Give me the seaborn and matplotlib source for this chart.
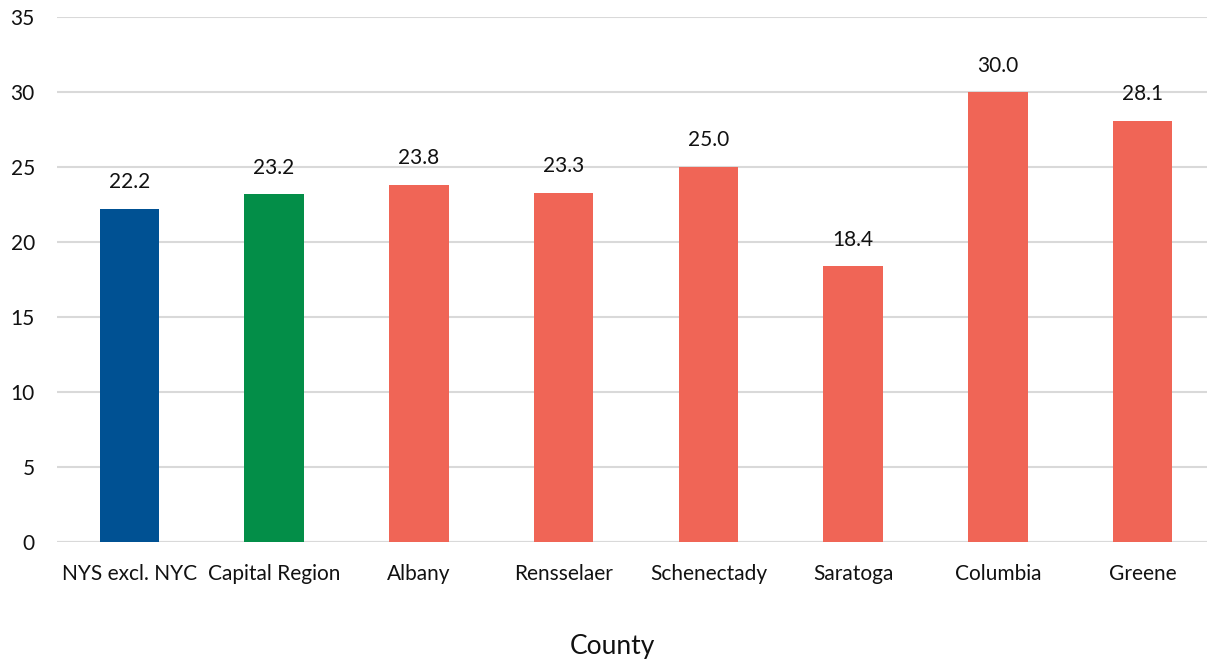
import numpy as np
import pandas as pd
import matplotlib
matplotlib.use("Agg")
import matplotlib.pyplot as plt
import seaborn as sns

counties = ["NYS excl. NYC", "Capital Region", "Albany", "Rensselaer",
            "Schenectady", "Saratoga", "Columbia", "Greene"]
values = [22.2, 23.2, 23.8, 23.3, 25.0, 18.4, 30.0, 28.1]
colors = ["#005193", "#038E48", "#F06556", "#F06556",
          "#F06556", "#F06556", "#F06556", "#F06556"]
yticks = [0, 5, 10, 15, 20, 25, 30, 35]

data = pd.DataFrame({"County": counties, "Value": values})

sns.set_style("white")
plt.rcParams["font.family"] = ["Lato", "DejaVu Sans"]

fig = plt.figure(figsize=(12.07, 6.61), dpi=100)
ax = fig.add_axes([57 / 1207, 119 / 661, 1158 / 1207, 525 / 661])

sns.barplot(data=data, x="County", y="Value", hue="County", palette=colors,
            legend=False, width=0.41, saturation=1, linewidth=0, ax=ax)

for i, v in enumerate(values):
    ax.text(i, v + 1.1, f"{v:.1f}", ha="center", va="bottom", fontsize=15, color="#111111")

ax.set_ylim(0, 35)
ax.set_yticks(yticks)
ax.yaxis.grid(True, color="#d9d9d9", linewidth=1.5)
ax.set_axisbelow(True)
for s in ax.spines.values():
    s.set_visible(False)
ax.axhline(0, color="#d9d9d9", linewidth=1.5, zorder=0)
ax.tick_params(axis="both", length=0, labelsize=15, colors="#111111")
ax.tick_params(axis="x", pad=16)
ax.tick_params(axis="y", pad=16)
ax.set_ylabel("")
ax.set_xlabel("County", fontsize=19, color="#111111")
ax.xaxis.set_label_coords((612 - 57) / 1158, -0.176)

fig.savefig("out.png", dpi=100)
